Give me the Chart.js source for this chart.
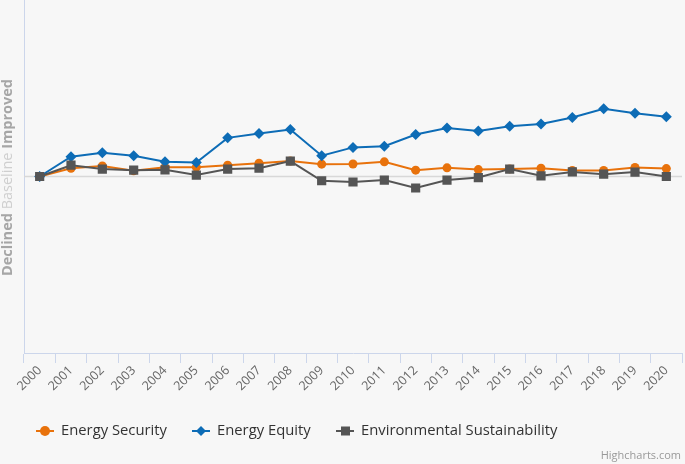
<!DOCTYPE html>
<html>
<head>
<meta charset="utf-8">
<script src="https://cdn.jsdelivr.net/npm/chart.js@4/dist/chart.umd.min.js"></script>
<style>
    html, body { margin: 0; padding: 0; background: #f7f7f7; }
    canvas { display: block; }
</style>
</head>
<body>
<canvas id="trendChart" width="685" height="464"></canvas>
<script>
// Years on the x axis
const years = ['2000', '2001', '2002', '2003', '2004', '2005', '2006', '2007', '2008', '2009', '2010',
    '2011', '2012', '2013', '2014', '2015', '2016', '2017', '2018', '2019', '2020'];

// Change against the 2000 baseline
const energySecurity = [0, 0.47, 0.60, 0.32, 0.53, 0.53, 0.64, 0.75, 0.88, 0.70, 0.71,
    0.83, 0.36, 0.49, 0.39, 0.43, 0.47, 0.34, 0.34, 0.51, 0.45];
const energyEquity = [0, 1.12, 1.35, 1.18, 0.83, 0.79, 2.19, 2.44, 2.66, 1.18, 1.65,
    1.72, 2.38, 2.75, 2.58, 2.85, 2.98, 3.34, 3.84, 3.58, 3.39];
const envSustainability = [0, 0.64, 0.42, 0.36, 0.38, 0.08, 0.42, 0.47, 0.87, -0.24, -0.31,
    -0.20, -0.65, -0.20, -0.06, 0.42, 0.04, 0.26, 0.13, 0.25, 0];

const seriesNames = ['Energy Security', 'Energy Equity', 'Environmental Sustainability'];
const seriesColors = ['#e8720c', '#0d6cb6', '#555555'];
const seriesMarkers = ['circle', 'rectRot', 'rect'];

const axisColor = '#ccd6eb';

// Draws the baseline, the split axis title, the legend and the credit text
const extrasPlugin = {
    id: 'extras',
    beforeDatasetsDraw(chart) {
        const { ctx, chartArea, scales } = chart;
        const y0 = scales.y.getPixelForValue(0);
        ctx.save();
        ctx.strokeStyle = '#d8d8d8';
        ctx.lineWidth = 1.5;
        ctx.beginPath();
        ctx.moveTo(chartArea.left, y0);
        ctx.lineTo(chartArea.right, y0);
        ctx.stroke();
        ctx.restore();
    },
    afterDraw(chart) {
        const { ctx, scales } = chart;
        const y0 = scales.y.getPixelForValue(0);

        // Y axis title: Declined / Baseline / Improved
        const parts = [
            { text: 'Declined ', font: 'bold 14.5px "Open Sans"', color: '#a6a6a6' },
            { text: 'Baseline ', font: '14.5px "Open Sans"', color: '#cfcfcf' },
            { text: 'Improved', font: 'bold 14.5px "Open Sans"', color: '#a6a6a6' }
        ];
        ctx.save();
        let total = 0;
        parts.forEach(p => { ctx.font = p.font; p.w = ctx.measureText(p.text).width; total += p.w; });
        ctx.translate(8, y0 + 1);
        ctx.rotate(-Math.PI / 2);
        ctx.textBaseline = 'middle';
        let x = -total / 2;
        parts.forEach(p => {
            ctx.font = p.font;
            ctx.fillStyle = p.color;
            ctx.fillText(p.text, x, 0);
            x += p.w;
        });
        ctx.restore();

        // Legend
        const legendX = [36, 192, 336];
        const legendY = 431;
        ctx.save();
        ctx.font = '14.8px "Open Sans"';
        ctx.textBaseline = 'middle';
        seriesNames.forEach((name, i) => {
            const lx = legendX[i];
            ctx.strokeStyle = seriesColors[i];
            ctx.lineWidth = 2;
            ctx.beginPath();
            ctx.moveTo(lx, legendY);
            ctx.lineTo(lx + 18, legendY);
            ctx.stroke();
            ctx.fillStyle = seriesColors[i];
            ctx.beginPath();
            if (seriesMarkers[i] === 'circle') {
                ctx.arc(lx + 9, legendY, 5, 0, Math.PI * 2);
            } else if (seriesMarkers[i] === 'rectRot') {
                ctx.moveTo(lx + 9, legendY - 5);
                ctx.lineTo(lx + 14, legendY);
                ctx.lineTo(lx + 9, legendY + 5);
                ctx.lineTo(lx + 4, legendY);
                ctx.closePath();
            } else {
                ctx.rect(lx + 5, legendY - 4.5, 9, 9);
            }
            ctx.fill();
            ctx.fillStyle = '#333333';
            ctx.fillText(name, lx + 25, legendY);
        });

        // Credit
        ctx.font = '11px "Open Sans"';
        ctx.fillStyle = '#999999';
        ctx.textAlign = 'right';
        ctx.textBaseline = 'alphabetic';
        ctx.fillText('Highcharts.com', 681, 459);
        ctx.restore();
    }
};

const datasets = [energySecurity, energyEquity, envSustainability].map((values, i) => ({
    label: seriesNames[i],
    data: values,
    borderColor: seriesColors[i],
    backgroundColor: seriesColors[i],
    borderWidth: 2,
    pointStyle: seriesMarkers[i],
    pointRadius: [4.5, 5.5, 6.5][i],
    pointBorderWidth: 0,
    tension: 0,
    order: 3 - i // later series drawn on top
}));

new Chart(document.getElementById('trendChart'), {
    type: 'line',
    data: { labels: years, datasets: datasets },
    options: {
        responsive: false,
        animation: false,
        layout: { autoPadding: false, padding: { top: 0, right: 3, left: 0, bottom: 0 } },
        plugins: {
            legend: { display: false },
            tooltip: { enabled: false }
        },
        scales: {
            x: {
                offset: true,
                grid: {
                    display: true,
                    offset: true,
                    drawOnChartArea: false,
                    drawTicks: true,
                    tickLength: 10,
                    color: axisColor
                },
                border: { display: true, color: axisColor, width: 1 },
                ticks: {
                    minRotation: 45,
                    maxRotation: 45,
                    autoSkip: false,
                    padding: 0,
                    color: '#666666',
                    font: { family: 'Open Sans', size: 12.5 }
                },
                afterFit: scale => { scale.height = 111; }
            },
            y: {
                min: -10,
                max: 10,
                grid: { display: false },
                border: { display: true, color: axisColor, width: 1 },
                ticks: { display: false },
                afterFit: scale => { scale.width = 24; }
            }
        }
    },
    plugins: [extrasPlugin]
});
</script>
</body>
</html>
